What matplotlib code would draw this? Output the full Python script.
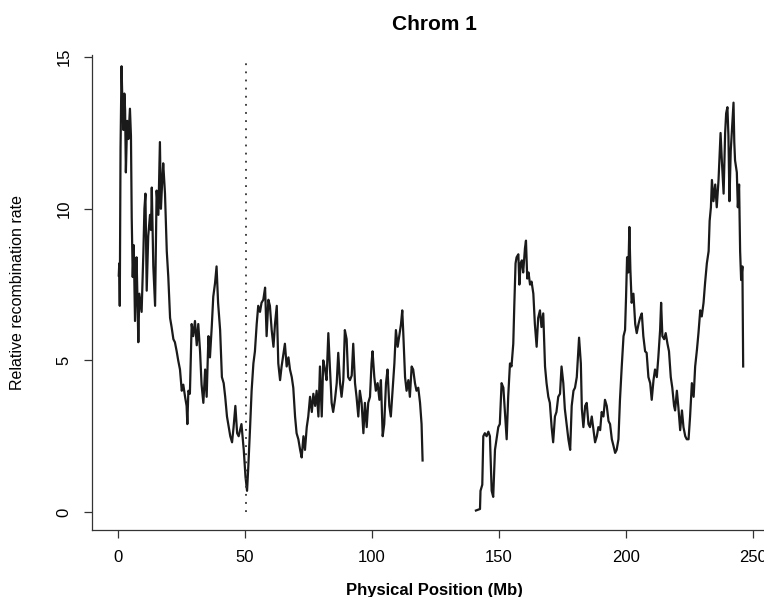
import matplotlib
matplotlib.use("Agg")
import matplotlib.pyplot as plt

plt.rcParams['font.family'] = ['Liberation Sans', 'DejaVu Sans']

# p-arm (short arm) positions in Mb and relative recombination rate
p_pos = [0.3, 0.5, 0.7, 1.0, 1.4, 1.7, 2.1, 2.5, 2.8, 3.1, 3.6, 4.1, 4.7, 5.1, 5.4,
         5.8, 6.2, 6.7, 7.3, 7.7, 8.0, 8.4, 8.7, 9.3, 10.0, 10.4, 10.8, 11.3, 11.9,
         12.6, 13.0, 13.3, 13.9, 14.6, 15.2, 15.9, 16.5, 16.9, 17.4, 17.8, 18.5,
         19.2, 19.8, 20.5, 21.1, 21.8, 22.4, 23.1, 23.7, 24.4, 25.1, 25.7, 26.4,
         27.0, 27.3, 27.7, 28.3, 29.0, 29.6, 30.3, 31.0, 31.6, 32.3, 32.9, 33.6,
         34.3, 34.9, 35.6, 36.2, 36.9, 37.5, 38.2, 38.8, 39.4,
         40.2, 40.9, 41.6, 42.2, 42.9, 43.6, 44.2, 44.9, 45.5, 46.2, 46.9, 47.5,
         48.6, 49.5, 50.2, 50.8, 51.3, 52.0, 52.6, 53.3, 53.9, 54.6, 55.2, 55.9,
         56.5, 57.2, 57.9, 58.5, 59.2, 59.8, 60.5, 61.2, 61.8, 62.5, 63.1, 63.8,
         64.4, 65.1, 65.7, 66.4, 67.1, 67.7, 68.4, 69.0, 69.7, 70.3, 71.0, 71.7,
         72.3, 73.0, 73.6, 74.3, 74.9, 75.6, 76.3, 76.9, 77.6, 78.2, 78.9,
         79.5, 80.2, 80.8, 81.5, 82.1, 82.8, 83.4, 84.1, 84.7, 85.4, 86.1, 86.7,
         87.4, 88.0, 88.7, 89.3, 90.0, 90.6, 91.3, 92.0, 92.6, 93.3, 93.9, 94.6,
         95.2, 95.9, 96.6, 97.2, 97.9, 98.5, 99.2, 99.8, 100.2, 100.9, 101.5,
         102.2, 102.9, 103.5, 104.2, 104.8, 105.5, 106.1, 106.8, 107.4, 108.1,
         108.8, 109.4, 110.1, 110.7, 111.4, 111.9, 112.3, 113.0, 113.6, 114.3,
         114.9, 115.6, 116.2, 116.9, 117.5, 118.2, 118.9, 119.5, 119.9]
p_rate = [7.8, 8.2, 6.8, 12.0, 14.7, 13.6, 12.6, 13.8, 13.25, 11.2, 12.9, 12.3, 13.3, 12.4, 9.7,
          7.75, 8.8, 6.3, 8.4, 6.9, 5.6, 7.2, 7.0, 6.6, 8.6, 10.0, 10.5, 7.3, 9.1,
          9.8, 9.3, 10.7, 8.1, 6.8, 10.6, 9.8, 12.2, 10.0, 10.9, 11.5, 10.5,
          8.6, 7.75, 6.4, 6.1, 5.7, 5.6, 5.3, 5.0, 4.7, 4.0, 4.2, 3.8,
          3.5, 2.9, 4.0, 3.9, 6.2, 5.8, 6.3, 5.5, 6.2, 5.3, 4.2, 3.6,
          4.7, 3.8, 5.8, 5.1, 6.1, 7.1, 7.55, 8.1, 6.9,
          6.0, 4.45, 4.25, 3.8, 3.15, 2.8, 2.5, 2.3, 2.8, 3.5, 2.6, 2.5,
          2.9, 2.05, 1.15, 0.7, 1.5, 2.8, 4.0, 4.9, 5.3, 6.2, 6.8, 6.6,
          6.9, 7.0, 7.4, 5.8, 7.0, 6.8, 6.0, 5.45, 6.2, 6.8, 4.9, 4.35,
          4.8, 5.2, 5.55, 4.8, 5.1, 4.7, 4.45, 4.1, 3.15, 2.6, 2.4, 2.05,
          1.8, 2.5, 2.05, 2.8, 3.15, 3.8, 3.3, 3.9, 3.5, 4.0, 3.15,
          4.8, 3.15, 5.0, 4.7, 4.35, 5.9, 4.8, 3.6, 3.3, 3.7, 4.25, 5.25,
          4.25, 3.8, 4.35, 6.0, 5.7, 4.45, 4.35, 4.5, 5.55, 4.25, 3.8, 3.15,
          4.0, 3.6, 2.6, 3.6, 2.8, 3.6, 3.8, 4.9, 5.3, 4.45, 4.0,
          4.25, 3.7, 4.35, 2.5, 2.9, 4.25, 4.7, 3.5, 3.15, 4.0,
          4.9, 6.0, 5.45, 5.8, 6.2, 6.65, 5.9, 4.45, 4.0, 4.35,
          3.8, 4.8, 4.7, 4.25, 4.0, 4.1, 3.6, 2.9, 1.7]

# q-arm (long arm)
q_pos = [140.9, 142.5, 142.7, 143.4, 143.8, 144.4, 145.1, 145.8, 146.4, 147.1, 147.7,
         148.4, 149.0, 149.7, 150.3, 151.0, 151.7, 152.3, 153.0, 153.6, 154.3, 154.9,
         155.6, 156.0, 156.5, 156.9, 157.6, 158.0, 158.5, 159.0, 159.5, 160.2, 160.6,
         161.1, 161.6, 162.2, 162.8, 163.5, 164.1, 164.8, 165.4, 166.1, 166.7, 167.4,
         168.1, 168.7, 169.4, 170.0, 170.7, 171.3, 172.0, 172.6, 173.3, 174.0, 174.6,
         175.3, 175.9, 176.6, 177.3, 178.0, 178.6, 179.3, 179.9, 180.6, 181.2, 181.5,
         182.2, 182.6, 183.2, 183.9, 184.5, 185.2, 185.8, 186.5, 187.2, 187.8, 188.5,
         189.1, 189.8, 190.4, 191.1, 191.7, 192.4, 193.1, 193.7, 194.4, 195.0, 195.7,
         196.3, 197.0, 197.6, 198.3, 199.0, 199.6, 200.0, 200.4, 200.9, 201.3, 201.7,
         202.2, 202.9, 203.6, 204.2, 204.9, 205.5, 206.2, 206.8, 207.5, 208.1, 208.8,
         209.5, 210.1, 210.8, 211.4, 212.1, 212.7, 213.4, 213.8, 214.3, 215.0, 215.6,
         216.3, 216.9, 217.6, 218.2, 218.9, 219.3, 220.0, 220.6, 221.3, 222.0, 222.6,
         223.3, 223.9, 224.6, 225.2, 225.9, 226.6, 227.2, 227.9, 228.5, 229.2, 229.8,
         230.5, 231.1, 231.8, 232.5, 232.9, 233.4, 233.8, 234.4, 235.1, 235.7, 236.4,
         236.8, 237.2, 237.7, 238.4, 239.0, 239.4, 239.9, 240.3, 240.7, 241.2, 241.6,
         242.3, 242.6, 242.9, 243.6, 244.0, 244.5, 244.9, 245.3, 245.8, 246.1]
q_rate = [0.05, 0.1, 0.7, 0.9, 2.5, 2.6, 2.5, 2.65, 2.5, 0.7, 0.5,
          2.05, 2.4, 2.8, 2.9, 4.25, 4.1, 3.3, 2.4, 3.8, 4.9, 4.8,
          5.55, 6.8, 8.2, 8.4, 8.5, 7.5, 8.2, 8.3, 7.9, 8.7, 8.95,
          7.7, 7.9, 7.5, 7.6, 7.2, 6.2, 5.45, 6.4, 6.65, 6.1, 6.55,
          4.8, 4.25, 3.8, 3.6, 2.8, 2.3, 3.15, 3.3, 3.8, 3.9, 4.8,
          4.25, 3.4, 2.9, 2.4, 2.05, 3.5, 4.0, 4.1, 4.45, 5.3, 5.75,
          4.9, 3.4, 2.8, 3.5, 3.6, 2.9, 2.8, 3.15, 2.7, 2.3, 2.5,
          2.8, 2.7, 3.3, 3.15, 3.7, 3.5, 3.0, 2.9, 2.4, 2.2, 1.95,
          2.05, 2.4, 3.7, 4.8, 5.8, 6.0, 7.1, 8.4, 7.9, 9.4, 8.0,
          6.9, 7.2, 6.2, 5.9, 6.2, 6.4, 6.55, 5.8, 5.3, 5.25, 4.45,
          4.25, 3.7, 4.35, 4.7, 4.45, 5.1, 6.0, 6.9, 5.8, 5.7, 5.9,
          5.55, 5.3, 4.45, 4.1, 3.5, 3.35, 4.0, 3.45, 2.7, 3.35, 2.8,
          2.5, 2.4, 2.4, 3.15, 4.25, 3.8, 4.8, 5.35, 5.9, 6.65, 6.45,
          6.9, 7.55, 8.2, 8.6, 9.6, 10.05, 10.95, 10.25, 10.8, 10.05, 10.95,
          11.7, 12.5, 11.6, 10.5, 12.5, 13.15, 13.35, 12.4, 10.25, 11.9, 12.5,
          13.5, 12.2, 11.6, 11.2, 10.05, 10.8, 8.6, 7.65, 8.1, 4.8]

centromere = 50.4
x_ticks = [0, 50, 100, 150, 200, 250]
y_ticks = [0, 5, 10, 15]

fig = plt.figure(figsize=(7.64, 5.97), dpi=100)
ax = fig.add_axes([0.1204, 0.1122, 0.8796, 0.7956])

ax.plot(p_pos, p_rate, color='#1a1a1a', lw=1.6)
ax.plot(q_pos, q_rate, color='#1a1a1a', lw=1.6)
ax.vlines(centromere, y_ticks[0], y_ticks[-1], colors='#333333',
          linestyles=(0, (1, 3.5)), lw=1.3)

ax.set_xlim(-10.24, 254.3)
ax.set_ylim(-0.593, 15.07)
ax.set_xticks(x_ticks)
ax.set_yticks(y_ticks)

for s in ['top', 'right']:
    ax.spines[s].set_visible(False)
for s in ['left', 'bottom']:
    ax.spines[s].set_linewidth(0.9)
    ax.spines[s].set_color('#333333')

ax.tick_params(axis='both', direction='out', length=5.5, width=0.9,
               color='#333333', labelsize=12, pad=9)
ax.tick_params(axis='y', labelrotation=90)
for lab in ax.get_yticklabels():
    lab.set_verticalalignment('center')

ax.set_title('Chrom 1', fontweight='bold', fontsize=15, x=0.51, y=1.053, pad=0)
ax.set_xlabel('Physical Position (Mb)', fontweight='bold', fontsize=12)
ax.xaxis.set_label_coords(0.51, -0.111)
ax.set_ylabel('Relative recombination rate', fontsize=11.5)
ax.yaxis.set_label_coords(-0.1, 0.5)

fig.savefig('out.png', dpi=100)
